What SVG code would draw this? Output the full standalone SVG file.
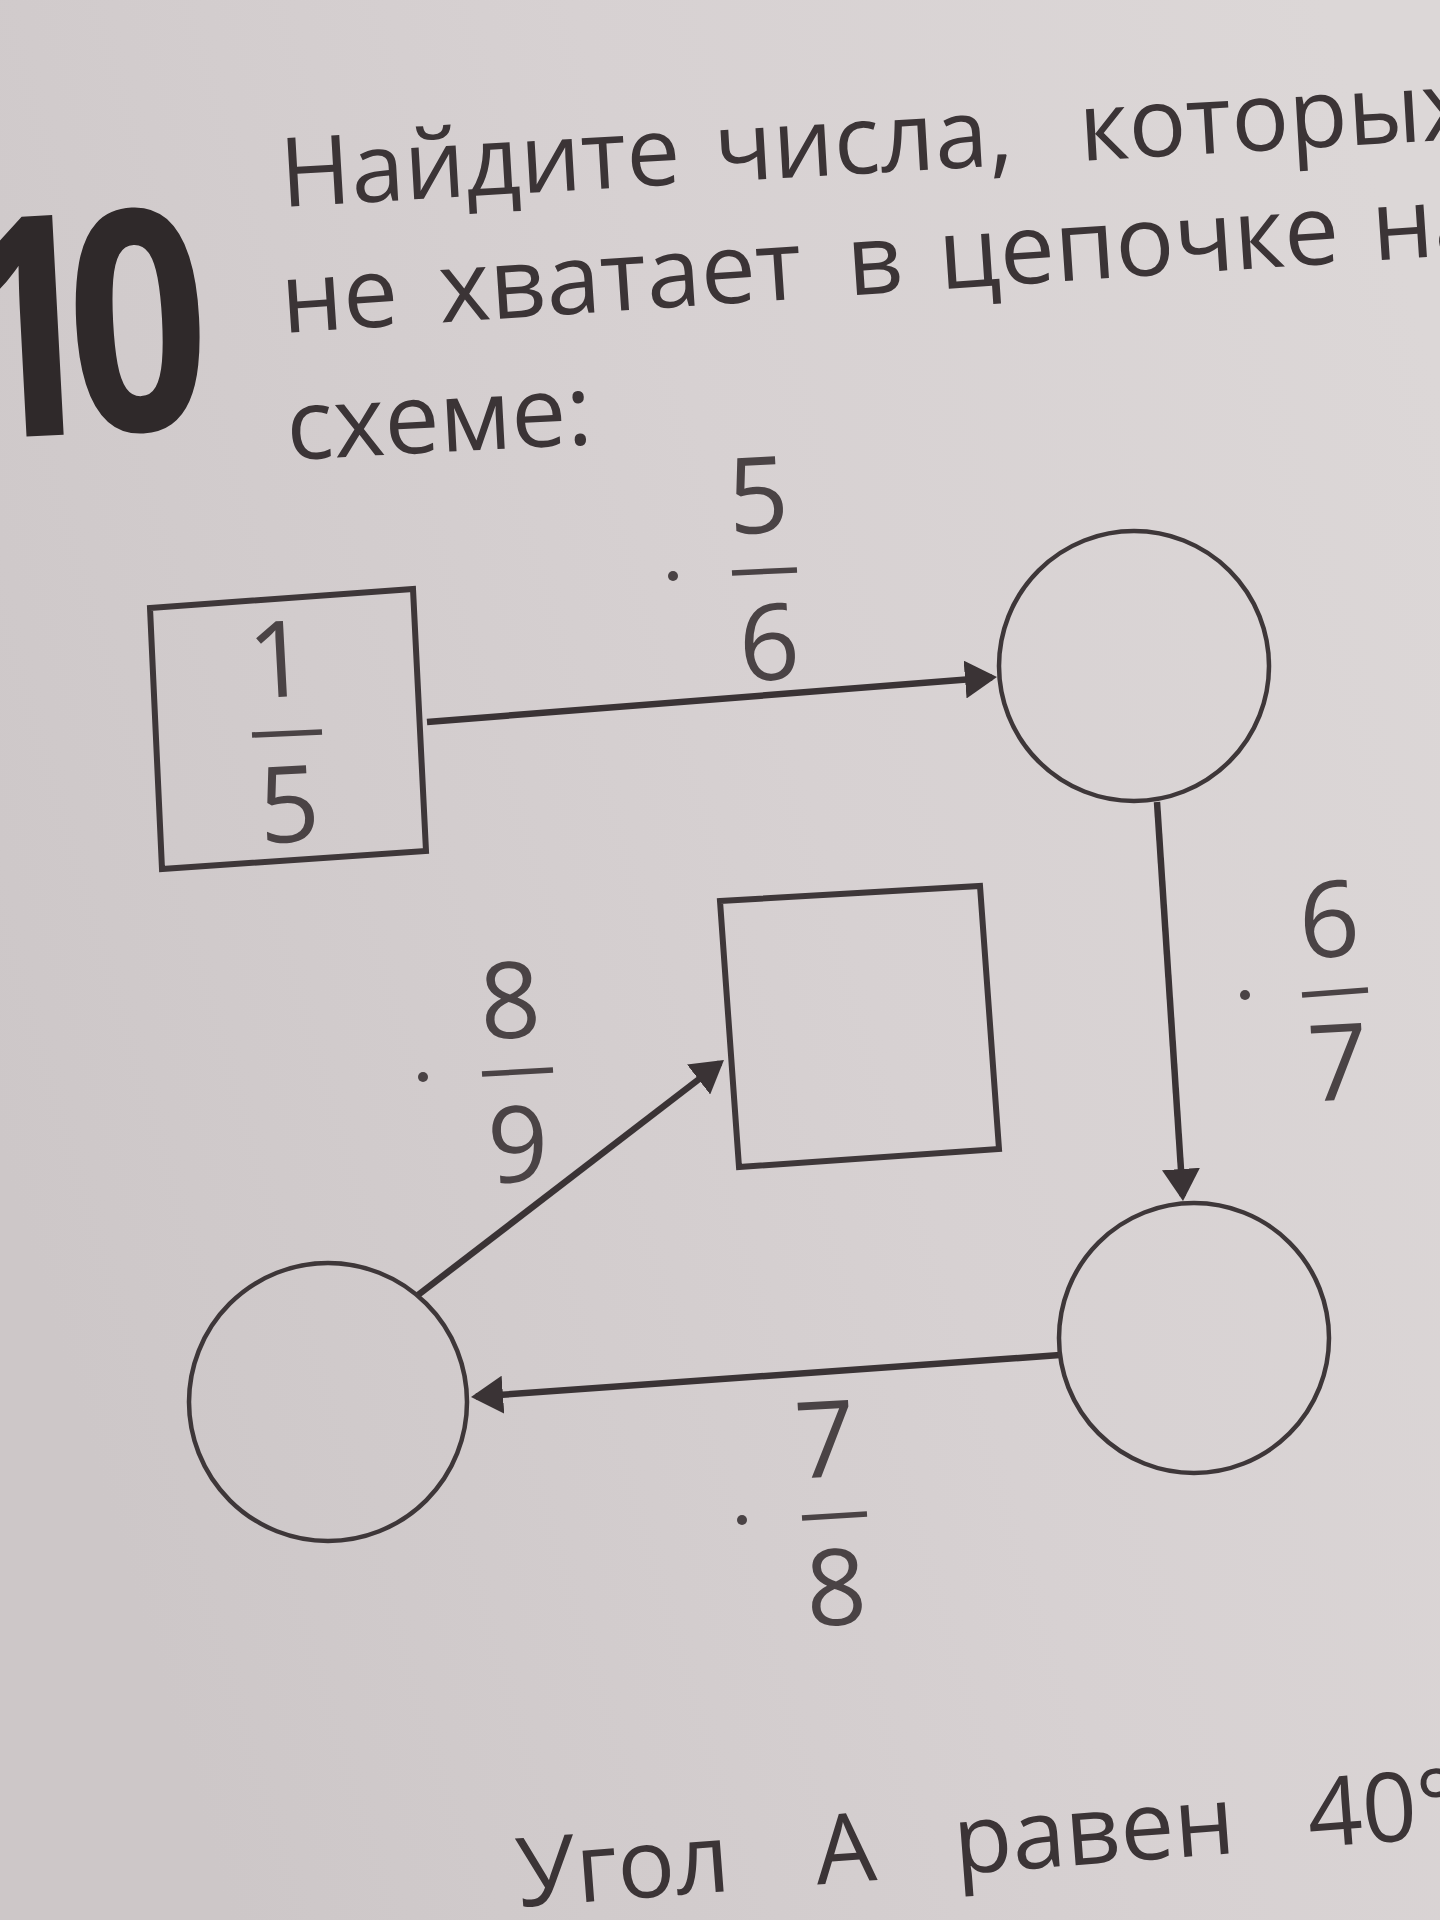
<svg xmlns="http://www.w3.org/2000/svg" width="1440" height="1920" viewBox="0 0 1440 1920">
  <defs>
    <linearGradient id="paper" x1="0" y1="0.6" x2="1" y2="0.2">
      <stop offset="0" stop-color="#cdc7c8"/>
      <stop offset="0.55" stop-color="#d7d1d2"/>
      <stop offset="1" stop-color="#dcd7d7"/>
    </linearGradient>
    <marker id="arrow" markerUnits="userSpaceOnUse" markerWidth="32" markerHeight="38" viewBox="0 0 32 38" refX="27" refY="19" orient="auto">
      <path d="M0,0 L32,19 L0,38 Z" fill="#3a3335"/>
    </marker>
    <style>
      .title { font-family: "Open Sans", "Noto Sans", "DejaVu Sans", sans-serif; fill: #3b3436; }
      .num { font-family: "Open Sans", "Noto Sans", sans-serif; font-weight: 700; fill: #2f292a; }
      .d { font-family: "Open Sans", "Noto Sans", sans-serif; font-size: 106px; fill: #4a4345; text-anchor: middle; }
      .box { fill: none; stroke: #3e3739; stroke-width: 6; stroke-linejoin: miter; }
      .ring { fill: none; stroke: #3e3739; stroke-width: 4.5; }
      .edge { fill: none; stroke: #3a3335; stroke-width: 6.5; marker-end: url(#arrow); }
      .bar { stroke: #4a4345; stroke-width: 5.5; stroke-linecap: butt; }
      .dot { fill: #4a4345; }
    </style>
  </defs>

  <rect x="0" y="0" width="1440" height="1920" fill="url(#paper)"/>

  <!-- task number -->
  <g id="task-number">
    <text class="num" font-size="308" transform="translate(-38,440) rotate(-3) scale(0.8,1)">1<tspan dx="-37">0</tspan></text>
  </g>

  <!-- heading -->
  <g id="heading">
    <text class="title" font-size="96" transform="translate(282,207) rotate(-3.3)"><tspan x="0">Найдите</tspan><tspan x="435">числа,</tspan><tspan x="800">которых</tspan></text>
    <text class="title" font-size="98" transform="translate(283,333) rotate(-3.8)"><tspan x="0">не</tspan><tspan x="158">хватает</tspan><tspan x="567">в</tspan><tspan x="659">цепочке</tspan><tspan x="1093">на</tspan></text>
    <text class="title" font-size="98" transform="translate(288,460) rotate(-3)">схеме:</text>
  </g>

  <!-- connectors -->
  <g id="connectors">
    <line class="edge" x1="427" y1="722" x2="992" y2="677.4"/>
    <line class="edge" x1="1157" y1="802" x2="1182.7" y2="1196"/>
    <line class="edge" x1="1060" y1="1355" x2="476" y2="1396.6"/>
    <line class="edge" x1="418" y1="1295" x2="720" y2="1063"/>
  </g>

  <!-- connector labels -->
  <g id="edge-labels">
    <g id="label-5-6">
      <circle class="dot" cx="673" cy="576" r="5"/>
      <text class="d" x="760" y="533" transform="rotate(-3 760 533)">5</text>
      <line class="bar" x1="732" y1="573" x2="797" y2="570"/>
      <text class="d" x="771" y="680" transform="rotate(-3 771 680)">6</text>
    </g>
    <g id="label-6-7">
      <circle class="dot" cx="1245" cy="995" r="5"/>
      <text class="d" x="1331" y="957" transform="rotate(-3 1331 957)">6</text>
      <line class="bar" x1="1302" y1="995" x2="1368" y2="990"/>
      <text class="d" x="1340" y="1100" transform="rotate(-3 1340 1100)">7</text>
    </g>
    <g id="label-7-8">
      <circle class="dot" cx="742" cy="1520" r="5"/>
      <text class="d" x="827" y="1477" transform="rotate(-3 827 1477)">7</text>
      <line class="bar" x1="802" y1="1518" x2="867" y2="1514"/>
      <text class="d" x="838" y="1625" transform="rotate(-3 838 1625)">8</text>
    </g>
    <g id="label-8-9">
      <circle class="dot" cx="423" cy="1077" r="5"/>
      <text class="d" x="512" y="1038" transform="rotate(-3 512 1038)">8</text>
      <line class="bar" x1="482" y1="1074" x2="553" y2="1070"/>
      <text class="d" x="520" y="1182" transform="rotate(-3 520 1182)">9</text>
    </g>
  </g>

  <!-- nodes -->
  <g id="node-start">
    <polygon class="box" points="150,608 413,589 426,851 162,869"/>
    <text class="d" x="280" y="697" transform="rotate(-3 280 697)">1</text>
    <line class="bar" x1="252" y1="735" x2="322" y2="732"/>
    <text class="d" x="291" y="842" transform="rotate(-3 291 842)">5</text>
  </g>
  <g id="node-circle-1">
    <circle class="ring" cx="1134" cy="666" r="135"/>
  </g>
  <g id="node-circle-2">
    <circle class="ring" cx="1194" cy="1338" r="135"/>
  </g>
  <g id="node-circle-3">
    <circle class="ring" cx="328" cy="1402" r="139"/>
  </g>
  <g id="node-end">
    <polygon class="box" points="720,901 980,886 999,1149 739,1167"/>
  </g>

  <!-- next task line -->
  <g id="next-task">
    <text class="title" font-size="96" transform="translate(519,1907) rotate(-4.3)"><tspan x="0">Угол</tspan><tspan x="299">А</tspan><tspan x="438">равен</tspan><tspan x="793">40°</tspan></text>
  </g>
</svg>
